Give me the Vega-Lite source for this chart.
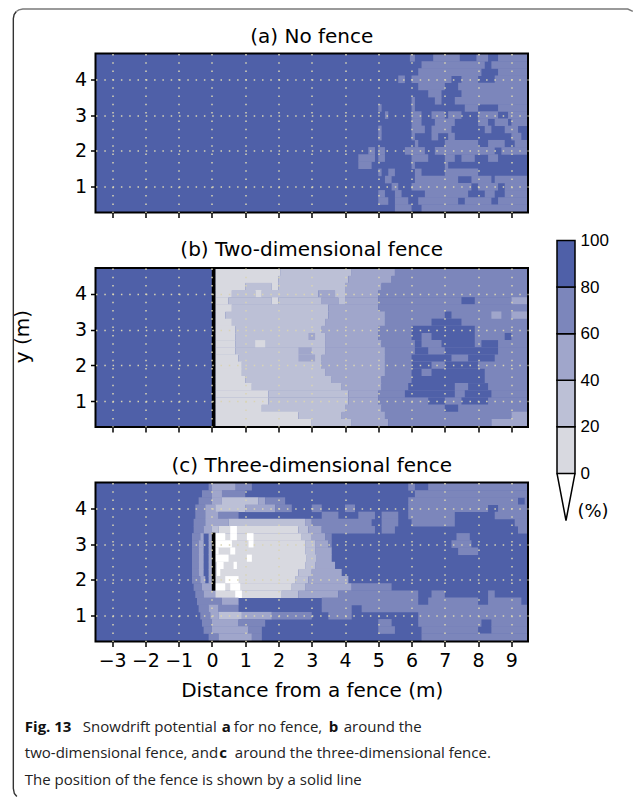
{"$schema":"https://vega.github.io/schema/vega-lite/v6.json","padding":{"left":10.5,"top":5.5,"right":0,"bottom":0},"background":"white","config":{"view":{"stroke":null},"axis":{"labelFont":"DejaVu Sans","titleFont":"DejaVu Sans"},"title":{"font":"DejaVu Sans","fontSize":20,"fontWeight":"normal","offset":6}},
"datasets":{"box":[{"x":-3.5,"e":9.5,"y":0.28,"t":4.72}],
"a":[{"x":5.95,"e":6.1,"y":4.6,"v":70},{"x":6.65,"e":7.45,"y":4.6,"v":70},{"x":7.95,"e":8.3,"y":4.6,"v":70},{"x":8.6,"e":9.5,"y":4.6,"v":70},{"x":6.3,"e":8.2,"y":4.4,"v":70},{"x":8.4,"e":9.5,"y":4.4,"v":70},{"x":6.2,"e":8.1,"y":4.2,"v":70},{"x":8.6,"e":9.5,"y":4.2,"v":70},{"x":5.6,"e":5.8,"y":4,"v":70},{"x":6,"e":7.2,"y":4,"v":70},{"x":7.5,"e":8,"y":4,"v":70},{"x":8.5,"e":9.5,"y":4,"v":70},{"x":6.2,"e":7,"y":3.8,"v":70},{"x":7.4,"e":9.5,"y":3.8,"v":70},{"x":6.5,"e":6.9,"y":3.6,"v":70},{"x":7.5,"e":9.5,"y":3.6,"v":70},{"x":6,"e":6.1,"y":3.4,"v":70},{"x":6.7,"e":6.9,"y":3.4,"v":70},{"x":7.3,"e":9.5,"y":3.4,"v":70},{"x":5,"e":5.1,"y":3.2,"v":70},{"x":6,"e":6.1,"y":3.2,"v":70},{"x":7.6,"e":8,"y":3.2,"v":70},{"x":8.6,"e":9.5,"y":3.2,"v":70},{"x":5.2,"e":5.3,"y":3,"v":70},{"x":6,"e":6.3,"y":3,"v":70},{"x":6.6,"e":7,"y":3,"v":70},{"x":7.1,"e":7.5,"y":3,"v":70},{"x":8,"e":8.6,"y":3,"v":70},{"x":8.9,"e":9.5,"y":3,"v":70},{"x":6,"e":6.3,"y":2.8,"v":70},{"x":6.7,"e":7.3,"y":2.8,"v":70},{"x":8,"e":8.3,"y":2.8,"v":70},{"x":8.5,"e":8.9,"y":2.8,"v":70},{"x":9,"e":9.5,"y":2.8,"v":70},{"x":5,"e":5.1,"y":2.6,"v":70},{"x":6,"e":6.4,"y":2.6,"v":70},{"x":6.6,"e":7.2,"y":2.6,"v":70},{"x":8.2,"e":8.4,"y":2.6,"v":70},{"x":8.8,"e":9.2,"y":2.6,"v":70},{"x":5,"e":5.1,"y":2.4,"v":70},{"x":6,"e":6.1,"y":2.4,"v":70},{"x":6.6,"e":6.8,"y":2.4,"v":70},{"x":7.1,"e":7.3,"y":2.4,"v":70},{"x":9,"e":9.3,"y":2.4,"v":70},{"x":6.1,"e":6.2,"y":2.2,"v":70},{"x":7,"e":8,"y":2.2,"v":70},{"x":8.3,"e":8.8,"y":2.2,"v":70},{"x":9.1,"e":9.5,"y":2.2,"v":70},{"x":4.7,"e":4.9,"y":2,"v":70},{"x":5,"e":5.2,"y":2,"v":70},{"x":5.8,"e":6.4,"y":2,"v":70},{"x":6.7,"e":8.5,"y":2,"v":70},{"x":8.7,"e":9.5,"y":2,"v":70},{"x":4.4,"e":4.9,"y":1.8,"v":70},{"x":5,"e":5.2,"y":1.8,"v":70},{"x":6,"e":6.5,"y":1.8,"v":70},{"x":7,"e":7.3,"y":1.8,"v":70},{"x":7.5,"e":7.9,"y":1.8,"v":70},{"x":8.3,"e":8.6,"y":1.8,"v":70},{"x":4.4,"e":4.8,"y":1.6,"v":70},{"x":6,"e":6.1,"y":1.6,"v":70},{"x":7,"e":7.1,"y":1.6,"v":70},{"x":5,"e":5.1,"y":1.4,"v":70},{"x":5.3,"e":5.5,"y":1.4,"v":70},{"x":6.1,"e":6.3,"y":1.4,"v":70},{"x":7,"e":8,"y":1.4,"v":70},{"x":5.2,"e":5.4,"y":1.2,"v":70},{"x":6.1,"e":7.4,"y":1.2,"v":70},{"x":7.8,"e":8.4,"y":1.2,"v":70},{"x":8.5,"e":9.5,"y":1.2,"v":70},{"x":5.4,"e":5.6,"y":1,"v":70},{"x":6,"e":7.8,"y":1,"v":70},{"x":8,"e":8.6,"y":1,"v":70},{"x":8.8,"e":9.5,"y":1,"v":70},{"x":5,"e":5.2,"y":0.8,"v":70},{"x":5.5,"e":5.7,"y":0.8,"v":70},{"x":6.4,"e":7.7,"y":0.8,"v":70},{"x":8.2,"e":8.5,"y":0.8,"v":70},{"x":8.8,"e":9.5,"y":0.8,"v":70},{"x":5,"e":5.3,"y":0.6,"v":70},{"x":5.5,"e":5.9,"y":0.6,"v":70},{"x":6.2,"e":7.4,"y":0.6,"v":70},{"x":7.6,"e":8.4,"y":0.6,"v":70},{"x":8.6,"e":9.5,"y":0.6,"v":70},{"x":5.5,"e":6,"y":0.4,"v":70},{"x":6.3,"e":9.5,"y":0.4,"v":70}],
"b":[{"x":0.1,"e":2.05,"y":4.6,"v":10},{"x":2.05,"e":4.2,"y":4.6,"v":30},{"x":4.2,"e":5.5,"y":4.6,"v":50},{"x":5.5,"e":9.5,"y":4.6,"v":70},{"x":0.1,"e":2,"y":4.4,"v":10},{"x":2,"e":4.1,"y":4.4,"v":30},{"x":4.1,"e":5.4,"y":4.4,"v":50},{"x":5.4,"e":9.5,"y":4.4,"v":70},{"x":0.1,"e":1,"y":4.2,"v":10},{"x":1,"e":1.8,"y":4.2,"v":30},{"x":1.8,"e":2,"y":4.2,"v":10},{"x":2,"e":4,"y":4.2,"v":30},{"x":4,"e":5.1,"y":4.2,"v":50},{"x":5.1,"e":9.5,"y":4.2,"v":70},{"x":0.1,"e":0.6,"y":4,"v":10},{"x":0.6,"e":1.3,"y":4,"v":30},{"x":1.3,"e":1.5,"y":4,"v":10},{"x":1.5,"e":3.2,"y":4,"v":30},{"x":3.2,"e":3.7,"y":4,"v":50},{"x":3.7,"e":4,"y":4,"v":30},{"x":4,"e":5,"y":4,"v":50},{"x":5,"e":9.5,"y":4,"v":70},{"x":0.1,"e":0.5,"y":3.8,"v":10},{"x":0.5,"e":1.8,"y":3.8,"v":30},{"x":1.8,"e":2,"y":3.8,"v":10},{"x":2,"e":3.3,"y":3.8,"v":30},{"x":3.3,"e":3.8,"y":3.8,"v":50},{"x":3.8,"e":4,"y":3.8,"v":30},{"x":4,"e":5,"y":3.8,"v":50},{"x":5,"e":9,"y":3.8,"v":70},{"x":7.5,"e":7.9,"y":3.8,"v":90},{"x":9,"e":9.5,"y":3.8,"v":50},{"x":0.1,"e":0.6,"y":3.6,"v":10},{"x":0.6,"e":3.5,"y":3.6,"v":30},{"x":3.5,"e":5,"y":3.6,"v":50},{"x":5,"e":9.5,"y":3.6,"v":70},{"x":0.1,"e":0.4,"y":3.4,"v":10},{"x":0.4,"e":3.5,"y":3.4,"v":30},{"x":3.5,"e":5.2,"y":3.4,"v":50},{"x":5.2,"e":9.5,"y":3.4,"v":70},{"x":7,"e":7.2,"y":3.4,"v":90},{"x":8.4,"e":8.7,"y":3.4,"v":50},{"x":9,"e":9.5,"y":3.4,"v":50},{"x":0.1,"e":0.6,"y":3.2,"v":10},{"x":0.6,"e":3.4,"y":3.2,"v":30},{"x":3.4,"e":5.2,"y":3.2,"v":50},{"x":5.2,"e":9.5,"y":3.2,"v":70},{"x":6.6,"e":7.5,"y":3.2,"v":90},{"x":0.1,"e":0.7,"y":3,"v":10},{"x":0.7,"e":3.3,"y":3,"v":30},{"x":3.3,"e":5,"y":3,"v":50},{"x":5,"e":9.5,"y":3,"v":70},{"x":6,"e":7.9,"y":3,"v":90},{"x":0.1,"e":0.7,"y":2.8,"v":10},{"x":0.7,"e":3.4,"y":2.8,"v":30},{"x":2.9,"e":3.1,"y":2.8,"v":50},{"x":3.4,"e":5,"y":2.8,"v":50},{"x":5,"e":9.5,"y":2.8,"v":70},{"x":6,"e":6.3,"y":2.8,"v":90},{"x":6.6,"e":7.9,"y":2.8,"v":90},{"x":8.8,"e":9,"y":2.8,"v":90},{"x":0.1,"e":0.7,"y":2.6,"v":10},{"x":0.7,"e":3.4,"y":2.6,"v":30},{"x":1.3,"e":1.6,"y":2.6,"v":10},{"x":3.4,"e":5.1,"y":2.6,"v":50},{"x":5.1,"e":9.5,"y":2.6,"v":70},{"x":6.1,"e":6.3,"y":2.6,"v":90},{"x":6.9,"e":7.9,"y":2.6,"v":90},{"x":8.1,"e":8.6,"y":2.6,"v":90},{"x":0.1,"e":0.7,"y":2.4,"v":10},{"x":0.7,"e":3.4,"y":2.4,"v":30},{"x":2.6,"e":3,"y":2.4,"v":50},{"x":3.4,"e":5.2,"y":2.4,"v":50},{"x":5.2,"e":9.5,"y":2.4,"v":70},{"x":6.1,"e":6.5,"y":2.4,"v":90},{"x":7,"e":8.6,"y":2.4,"v":90},{"x":0.1,"e":0.8,"y":2.2,"v":10},{"x":0.8,"e":3.3,"y":2.2,"v":30},{"x":2.6,"e":3.1,"y":2.2,"v":50},{"x":3.3,"e":5.2,"y":2.2,"v":50},{"x":5.2,"e":9.5,"y":2.2,"v":70},{"x":6,"e":7.2,"y":2.2,"v":90},{"x":7.7,"e":8.5,"y":2.2,"v":90},{"x":0.1,"e":0.9,"y":2,"v":10},{"x":0.9,"e":3.3,"y":2,"v":30},{"x":3.3,"e":5.2,"y":2,"v":50},{"x":5.2,"e":9.5,"y":2,"v":70},{"x":6,"e":6.6,"y":2,"v":90},{"x":7,"e":8,"y":2,"v":90},{"x":0.1,"e":0.9,"y":1.8,"v":10},{"x":0.9,"e":3.4,"y":1.8,"v":30},{"x":3.4,"e":5.2,"y":1.8,"v":50},{"x":5.2,"e":9.5,"y":1.8,"v":70},{"x":6,"e":6.3,"y":1.8,"v":90},{"x":6.6,"e":8.2,"y":1.8,"v":90},{"x":0.1,"e":1,"y":1.6,"v":10},{"x":1,"e":3.6,"y":1.6,"v":30},{"x":3.6,"e":5.1,"y":1.6,"v":50},{"x":5.1,"e":9.5,"y":1.6,"v":70},{"x":6,"e":8.2,"y":1.6,"v":90},{"x":0.1,"e":1.2,"y":1.4,"v":10},{"x":1.2,"e":3.9,"y":1.4,"v":30},{"x":3.9,"e":5.1,"y":1.4,"v":50},{"x":5.1,"e":9.5,"y":1.4,"v":70},{"x":5.9,"e":7.3,"y":1.4,"v":90},{"x":7.7,"e":8.3,"y":1.4,"v":90},{"x":0.1,"e":1.7,"y":1.2,"v":10},{"x":1.7,"e":4.1,"y":1.2,"v":30},{"x":4.1,"e":5,"y":1.2,"v":50},{"x":5,"e":9.5,"y":1.2,"v":70},{"x":5.8,"e":7.3,"y":1.2,"v":90},{"x":7.6,"e":8.4,"y":1.2,"v":90},{"x":0.1,"e":1.7,"y":1,"v":10},{"x":1.7,"e":4.1,"y":1,"v":30},{"x":4.1,"e":5,"y":1,"v":50},{"x":5,"e":9.5,"y":1,"v":70},{"x":6.5,"e":7,"y":1,"v":90},{"x":7.5,"e":8.3,"y":1,"v":90},{"x":0.1,"e":1.5,"y":0.8,"v":10},{"x":1.5,"e":4,"y":0.8,"v":30},{"x":4,"e":5.1,"y":0.8,"v":50},{"x":5.1,"e":9.5,"y":0.8,"v":70},{"x":7,"e":7.4,"y":0.8,"v":90},{"x":0.1,"e":2.6,"y":0.6,"v":10},{"x":2.6,"e":3.9,"y":0.6,"v":30},{"x":3.9,"e":5.2,"y":0.6,"v":50},{"x":5.2,"e":9,"y":0.6,"v":70},{"x":9,"e":9.5,"y":0.6,"v":50},{"x":0.1,"e":3,"y":0.4,"v":10},{"x":3,"e":4.2,"y":0.4,"v":30},{"x":4.2,"e":5.3,"y":0.4,"v":50},{"x":5.3,"e":8.4,"y":0.4,"v":70},{"x":8.4,"e":9.5,"y":0.4,"v":50}],
"c":[{"x":-0.1,"e":1.2,"y":4.6,"v":70},{"x":0,"e":0.7,"y":4.6,"v":50},{"x":5.9,"e":6.1,"y":4.6,"v":70},{"x":6.5,"e":9.5,"y":4.6,"v":70},{"x":-0.3,"e":1,"y":4.4,"v":70},{"x":0,"e":0.3,"y":4.4,"v":50},{"x":6.1,"e":9.5,"y":4.4,"v":70},{"x":-0.4,"e":0,"y":4.2,"v":70},{"x":0,"e":0.3,"y":4.2,"v":50},{"x":0.3,"e":1.4,"y":4.2,"v":30},{"x":1.4,"e":1.6,"y":4.2,"v":50},{"x":1.6,"e":2.2,"y":4.2,"v":70},{"x":5.9,"e":9.2,"y":4.2,"v":70},{"x":9.4,"e":9.5,"y":4.2,"v":70},{"x":-0.5,"e":-0.2,"y":4,"v":70},{"x":-0.2,"e":0.1,"y":4,"v":50},{"x":0.1,"e":1,"y":4,"v":30},{"x":1,"e":1.9,"y":4,"v":50},{"x":1.9,"e":2.4,"y":4,"v":70},{"x":3,"e":3.3,"y":4,"v":70},{"x":4,"e":4.3,"y":4,"v":70},{"x":5.9,"e":8.3,"y":4,"v":70},{"x":8.6,"e":9.5,"y":4,"v":70},{"x":-0.5,"e":-0.2,"y":3.8,"v":70},{"x":-0.2,"e":0.2,"y":3.8,"v":50},{"x":0.2,"e":0.8,"y":3.8,"v":70},{"x":3.3,"e":3.8,"y":3.8,"v":70},{"x":4.4,"e":4.9,"y":3.8,"v":70},{"x":5.1,"e":5.6,"y":3.8,"v":70},{"x":5.9,"e":7.3,"y":3.8,"v":70},{"x":8.5,"e":9.5,"y":3.8,"v":70},{"x":-0.55,"e":-0.2,"y":3.6,"v":70},{"x":-0.2,"e":0.5,"y":3.6,"v":50},{"x":0.5,"e":2.8,"y":3.6,"v":30},{"x":2.8,"e":3,"y":3.6,"v":50},{"x":3,"e":4.8,"y":3.6,"v":70},{"x":5.1,"e":5.6,"y":3.6,"v":70},{"x":6,"e":7.3,"y":3.6,"v":70},{"x":9.1,"e":9.5,"y":3.6,"v":70},{"x":-0.55,"e":-0.25,"y":3.4,"v":70},{"x":-0.25,"e":0,"y":3.4,"v":50},{"x":0,"e":0.2,"y":3.4,"v":30},{"x":0.2,"e":2.6,"y":3.4,"v":10},{"x":0.55,"e":0.75,"y":3.4,"v":-1},{"x":2.6,"e":2.9,"y":3.4,"v":30},{"x":2.9,"e":3.3,"y":3.4,"v":50},{"x":3.3,"e":4.9,"y":3.4,"v":70},{"x":5.1,"e":5.5,"y":3.4,"v":70},{"x":9.2,"e":9.5,"y":3.4,"v":70},{"x":-0.6,"e":-0.35,"y":3.2,"v":70},{"x":-0.35,"e":-0.25,"y":3.2,"v":50},{"x":-0.1,"e":0.05,"y":3.2,"v":50},{"x":0.1,"e":2.7,"y":3.2,"v":10},{"x":0.1,"e":0.4,"y":3.2,"v":-1},{"x":0.55,"e":0.75,"y":3.2,"v":-1},{"x":1.05,"e":1.25,"y":3.2,"v":-1},{"x":2.7,"e":3,"y":3.2,"v":30},{"x":3,"e":3.4,"y":3.2,"v":50},{"x":3.4,"e":3.6,"y":3.2,"v":70},{"x":7.35,"e":7.75,"y":3.2,"v":70},{"x":-0.6,"e":-0.4,"y":3,"v":70},{"x":-0.4,"e":-0.25,"y":3,"v":50},{"x":-0.1,"e":0.1,"y":3,"v":50},{"x":0.1,"e":2.8,"y":3,"v":10},{"x":0.1,"e":0.6,"y":3,"v":-1},{"x":1.1,"e":1.25,"y":3,"v":-1},{"x":2.8,"e":3.1,"y":3,"v":30},{"x":3.1,"e":3.5,"y":3,"v":50},{"x":3.5,"e":3.6,"y":3,"v":70},{"x":7.2,"e":7.8,"y":3,"v":70},{"x":-0.6,"e":-0.4,"y":2.8,"v":70},{"x":-0.4,"e":-0.25,"y":2.8,"v":50},{"x":-0.1,"e":0.1,"y":2.8,"v":50},{"x":0.1,"e":2.8,"y":2.8,"v":10},{"x":0.1,"e":0.2,"y":2.8,"v":-1},{"x":0.55,"e":0.7,"y":2.8,"v":-1},{"x":2.8,"e":3.1,"y":2.8,"v":30},{"x":3.1,"e":3.6,"y":2.8,"v":50},{"x":7.4,"e":8,"y":2.8,"v":70},{"x":-0.6,"e":-0.4,"y":2.6,"v":70},{"x":-0.4,"e":-0.25,"y":2.6,"v":50},{"x":-0.1,"e":0.1,"y":2.6,"v":50},{"x":0.1,"e":2.85,"y":2.6,"v":10},{"x":0.1,"e":0.5,"y":2.6,"v":-1},{"x":1.05,"e":1.2,"y":2.6,"v":-1},{"x":2.85,"e":3.15,"y":2.6,"v":30},{"x":3.15,"e":3.6,"y":2.6,"v":50},{"x":-0.6,"e":-0.4,"y":2.4,"v":70},{"x":-0.4,"e":-0.25,"y":2.4,"v":50},{"x":-0.1,"e":0.1,"y":2.4,"v":50},{"x":0.1,"e":2.8,"y":2.4,"v":10},{"x":0.15,"e":0.35,"y":2.4,"v":-1},{"x":0.65,"e":0.75,"y":2.4,"v":-1},{"x":2.8,"e":3.1,"y":2.4,"v":30},{"x":3.1,"e":3.7,"y":2.4,"v":50},{"x":-0.6,"e":-0.4,"y":2.2,"v":70},{"x":-0.4,"e":-0.25,"y":2.2,"v":50},{"x":-0.1,"e":0.1,"y":2.2,"v":50},{"x":0.1,"e":2.6,"y":2.2,"v":10},{"x":0.15,"e":0.25,"y":2.2,"v":-1},{"x":2.6,"e":3,"y":2.2,"v":30},{"x":3,"e":3.9,"y":2.2,"v":50},{"x":-0.6,"e":-0.35,"y":2,"v":70},{"x":-0.35,"e":-0.2,"y":2,"v":50},{"x":-0.1,"e":0.1,"y":2,"v":50},{"x":0.1,"e":2.5,"y":2,"v":10},{"x":0.4,"e":0.8,"y":2,"v":-1},{"x":2.5,"e":2.9,"y":2,"v":30},{"x":2.9,"e":4.1,"y":2,"v":50},{"x":-0.55,"e":-0.3,"y":1.8,"v":70},{"x":-0.3,"e":0.05,"y":1.8,"v":50},{"x":0.1,"e":2.4,"y":1.8,"v":10},{"x":0.1,"e":0.4,"y":1.8,"v":-1},{"x":0.55,"e":0.85,"y":1.8,"v":-1},{"x":2.4,"e":2.8,"y":1.8,"v":30},{"x":2.8,"e":4.2,"y":1.8,"v":50},{"x":4.2,"e":5.4,"y":1.8,"v":70},{"x":-0.5,"e":-0.25,"y":1.6,"v":70},{"x":-0.25,"e":0.1,"y":1.6,"v":50},{"x":0.1,"e":2.1,"y":1.6,"v":10},{"x":0.7,"e":0.9,"y":1.6,"v":-1},{"x":2.1,"e":2.6,"y":1.6,"v":30},{"x":2.6,"e":3.8,"y":1.6,"v":50},{"x":3.8,"e":6.2,"y":1.6,"v":70},{"x":6.6,"e":7,"y":1.6,"v":70},{"x":8.3,"e":8.5,"y":1.6,"v":70},{"x":-0.45,"e":0.3,"y":1.4,"v":70},{"x":0.3,"e":0.8,"y":1.4,"v":50},{"x":3.3,"e":6.2,"y":1.4,"v":70},{"x":6.5,"e":8,"y":1.4,"v":70},{"x":8.3,"e":9.3,"y":1.4,"v":70},{"x":-0.4,"e":-0.1,"y":1.2,"v":70},{"x":-0.1,"e":0.2,"y":1.2,"v":50},{"x":0.2,"e":0.8,"y":1.2,"v":70},{"x":3.3,"e":4.2,"y":1.2,"v":70},{"x":4.5,"e":9.5,"y":1.2,"v":70},{"x":-0.35,"e":-0.05,"y":1,"v":70},{"x":-0.05,"e":0.2,"y":1,"v":50},{"x":0.2,"e":0.9,"y":1,"v":30},{"x":0.9,"e":1.8,"y":1,"v":50},{"x":1.8,"e":3,"y":1,"v":70},{"x":3.5,"e":4.2,"y":1,"v":70},{"x":6.2,"e":9.5,"y":1,"v":70},{"x":-0.3,"e":0,"y":0.8,"v":70},{"x":0,"e":0.8,"y":0.8,"v":50},{"x":0.8,"e":1.6,"y":0.8,"v":70},{"x":5,"e":5.4,"y":0.8,"v":70},{"x":6.2,"e":8.1,"y":0.8,"v":70},{"x":8.4,"e":9.5,"y":0.8,"v":70},{"x":-0.25,"e":0,"y":0.6,"v":70},{"x":0,"e":1.1,"y":0.6,"v":50},{"x":1.1,"e":1.5,"y":0.6,"v":70},{"x":5,"e":5.5,"y":0.6,"v":70},{"x":6.3,"e":8,"y":0.6,"v":70},{"x":8.4,"e":9.5,"y":0.6,"v":70},{"x":-0.1,"e":0.2,"y":0.4,"v":70},{"x":0.2,"e":1.2,"y":0.4,"v":50},{"x":1.2,"e":1.5,"y":0.4,"v":70},{"x":6.3,"e":9.5,"y":0.4,"v":70}],
"frameLeft":[{"x":-5.864,"y":-4.048,"o":1},{"x":-5.94,"y":-3.965,"o":2},{"x":-5.97,"y":-3.825,"o":3},{"x":-5.97,"y":17.677,"o":4},{"x":-5.946,"y":17.789,"o":5},{"x":-5.88,"y":17.873,"o":6}],
"frameTop":[{"x":-5.88,"y":17.873,"o":1},{"x":-5.804,"y":17.92,"o":2},{"x":-5.684,"y":17.942,"o":3},{"x":12.5,"y":17.942,"o":4},{"x":12.65,"y":17.873,"o":5}],
"capBold":[{"t":"Fig. 13","x":-5.624,"y":-2.261},{"t":"a","x":0.297,"y":-2.261},{"t":"b","x":3.513,"y":-2.261},{"t":"c","x":0.222,"y":-2.987}],
"capText":[{"t":"Snowdrift potential","x":-3.88,"y":-2.261},{"t":"for no fence,","x":0.658,"y":-2.261},{"t":"around the","x":3.963,"y":-2.261},{"t":"two-dimensional fence, and","x":-5.624,"y":-2.987},{"t":"around the three-dimensional fence.","x":0.688,"y":-2.987},{"t":"The position of the fence is shown by a solid line","x":-5.624,"y":-3.741}],
"titleC":[{"t":"(c) Three-dimensional fence","x":3,"y":5}]},
"hconcat":[{"vconcat":[
{"width":432.5,"height":159,"title":"(a) No fence","layer":[
{"data":{"name":"box"},"mark":{"type":"rect","fill":"#4f60a8"},"encoding":{"x":{"field":"x","type":"quantitative","title":null,"scale":{"domain":[-3.5,9.5],"nice":false,"zero":false},"axis":{"values":[-3,-2,-1,0,1,2,3,4,5,6,7,8,9],"tickCount":13,"labels":false,"domain":false,"tickColor":"black","tickWidth":1.5,"tickSize":5,"grid":true,"gridColor":"#d9d4b4","gridWidth":1.5,"gridDash":[1.5,6.8],"zindex":1}},"x2":{"field":"e"},"y":{"field":"y","type":"quantitative","title":null,"scale":{"domain":[0.28,4.72],"nice":false,"zero":false,"padding":0},"axis":{"values":[1,2,3,4],"tickCount":4,"format":"d","domain":false,"tickColor":"black","tickWidth":1.5,"tickSize":5,"labelFontSize":19,"labelColor":"black","labelPadding":4,"grid":true,"gridColor":"#d9d4b4","gridWidth":1.5,"gridDash":[1.5,6.8],"zindex":1}},"y2":{"field":"t"}}},
{"data":{"name":"a"},"mark":{"type":"bar","orient":"horizontal","size":7.6},"encoding":{"x":{"field":"x","type":"quantitative","scale":{"domain":[-3.5,9.5],"nice":false,"zero":false}},"x2":{"field":"e"},"y":{"field":"y","type":"quantitative","scale":{"domain":[0.28,4.72],"nice":false,"zero":false,"padding":0}},"color":{"field":"v","type":"ordinal","legend":null,"scale":{"domain":[-1,10,30,50,70,90],"range":["#ffffff","#d8d9e0","#bcc0d6","#a0a6cb","#7c86bb","#4f60a8"]}}}},
{"data":{"name":"box"},"mark":{"type":"rect","fill":null,"stroke":"black","strokeWidth":2},"encoding":{"x":{"field":"x","type":"quantitative"},"x2":{"field":"e"},"y":{"field":"y","type":"quantitative"},"y2":{"field":"t"}}}]},
{"width":432.5,"height":159,"title":"(b) Two-dimensional fence","layer":[
{"data":{"name":"box"},"mark":{"type":"rect","fill":"#4f60a8"},"encoding":{"x":{"field":"x","type":"quantitative","title":null,"scale":{"domain":[-3.5,9.5],"nice":false,"zero":false},"axis":{"values":[-3,-2,-1,0,1,2,3,4,5,6,7,8,9],"tickCount":13,"labels":false,"domain":false,"tickColor":"black","tickWidth":1.5,"tickSize":5,"grid":true,"gridColor":"#d9d4b4","gridWidth":1.5,"gridDash":[1.5,6.8],"zindex":1}},"x2":{"field":"e"},"y":{"field":"y","type":"quantitative","title":"y (m)","scale":{"domain":[0.28,4.72],"nice":false,"zero":false,"padding":0},"axis":{"values":[1,2,3,4],"tickCount":4,"format":"d","domain":false,"tickColor":"black","tickWidth":1.5,"tickSize":5,"labelFontSize":19,"labelColor":"black","labelPadding":4,"titleFontSize":20,"titleFontWeight":"normal","titleColor":"black","titlePadding":42,"titleY":68,"grid":true,"gridColor":"#d9d4b4","gridWidth":1.5,"gridDash":[1.5,6.8],"zindex":1}},"y2":{"field":"t"}}},
{"data":{"name":"b"},"mark":{"type":"bar","orient":"horizontal","size":7.6},"encoding":{"x":{"field":"x","type":"quantitative","scale":{"domain":[-3.5,9.5],"nice":false,"zero":false}},"x2":{"field":"e"},"y":{"field":"y","type":"quantitative","scale":{"domain":[0.28,4.72],"nice":false,"zero":false,"padding":0}},"color":{"field":"v","type":"ordinal","legend":null,"scale":{"domain":[-1,10,30,50,70,90],"range":["#ffffff","#d8d9e0","#bcc0d6","#a0a6cb","#7c86bb","#4f60a8"]}}}},
{"data":{"values":[{"x":0.05}]},"mark":{"type":"rule","color":"black","strokeWidth":3.6},"encoding":{"x":{"field":"x","type":"quantitative"}}},
{"data":{"name":"box"},"mark":{"type":"rect","fill":null,"stroke":"black","strokeWidth":2},"encoding":{"x":{"field":"x","type":"quantitative"},"x2":{"field":"e"},"y":{"field":"y","type":"quantitative"},"y2":{"field":"t"}}}]},
{"width":432.5,"height":159,"layer":[
{"data":{"name":"box"},"mark":{"type":"rect","fill":"#4f60a8"},"encoding":{"x":{"field":"x","type":"quantitative","title":"Distance from a fence (m)","scale":{"domain":[-3.5,9.5],"nice":false,"zero":false},"axis":{"values":[-3,-2,-1,0,1,2,3,4,5,6,7,8,9],"tickCount":13,"labelOverlap":false,"format":"d","domain":false,"tickColor":"black","tickWidth":1.5,"tickSize":5,"labelFontSize":19,"labelColor":"black","labelPadding":5,"titleFontSize":20,"titleFontWeight":"normal","titleColor":"black","titlePadding":10,"grid":true,"gridColor":"#d9d4b4","gridWidth":1.5,"gridDash":[1.5,6.8],"zindex":1}},"x2":{"field":"e"},"y":{"field":"y","type":"quantitative","title":null,"scale":{"domain":[0.28,4.72],"nice":false,"zero":false,"padding":0},"axis":{"values":[1,2,3,4],"tickCount":4,"format":"d","domain":false,"tickColor":"black","tickWidth":1.5,"tickSize":5,"labelFontSize":19,"labelColor":"black","labelPadding":4,"grid":true,"gridColor":"#d9d4b4","gridWidth":1.5,"gridDash":[1.5,6.8],"zindex":1}},"y2":{"field":"t"}}},
{"data":{"name":"c"},"mark":{"type":"bar","orient":"horizontal","size":7.6},"encoding":{"x":{"field":"x","type":"quantitative","scale":{"domain":[-3.5,9.5],"nice":false,"zero":false}},"x2":{"field":"e"},"y":{"field":"y","type":"quantitative","scale":{"domain":[0.28,4.72],"nice":false,"zero":false,"padding":0}},"color":{"field":"v","type":"ordinal","legend":null,"scale":{"domain":[-1,10,30,50,70,90],"range":["#ffffff","#d8d9e0","#bcc0d6","#a0a6cb","#7c86bb","#4f60a8"]}}}},
{"data":{"values":[{"x":0.05,"y":1.7,"t":3.32}]},"mark":{"type":"rule","color":"black","strokeWidth":3.6},"encoding":{"x":{"field":"x","type":"quantitative"},"y":{"field":"y","type":"quantitative"},"y2":{"field":"t"}}},
{"data":{"name":"box"},"mark":{"type":"rect","fill":null,"stroke":"black","strokeWidth":2},"encoding":{"x":{"field":"x","type":"quantitative"},"x2":{"field":"e"},"y":{"field":"y","type":"quantitative"},"y2":{"field":"t"}}},
{"data":{"name":"titleC"},"mark":{"type":"text","font":"DejaVu Sans","fontSize":20,"align":"center","baseline":"alphabetic","color":"black"},"encoding":{"x":{"field":"x","type":"quantitative"},"y":{"field":"y","type":"quantitative"},"text":{"field":"t"}}},
{"data":{"name":"frameLeft"},"mark":{"type":"line","color":"#333333","strokeWidth":1.4},"encoding":{"x":{"field":"x","type":"quantitative"},"y":{"field":"y","type":"quantitative"},"order":{"field":"o","type":"quantitative"}}},
{"data":{"name":"frameTop"},"mark":{"type":"line","color":"#7a7a7a","strokeWidth":1.4},"encoding":{"x":{"field":"x","type":"quantitative"},"y":{"field":"y","type":"quantitative"},"order":{"field":"o","type":"quantitative"}}},
{"data":{"name":"capBold"},"mark":{"type":"text","font":"Open Sans","fontSize":15,"fontWeight":700,"align":"left","baseline":"alphabetic","color":"#111111"},"encoding":{"x":{"field":"x","type":"quantitative"},"y":{"field":"y","type":"quantitative"},"text":{"field":"t"}}},
{"data":{"name":"capText"},"mark":{"type":"text","font":"Open Sans","fontSize":15,"align":"left","baseline":"alphabetic","color":"#222222"},"encoding":{"x":{"field":"x","type":"quantitative"},"y":{"field":"y","type":"quantitative"},"text":{"field":"t"}}}]}
],"bounds":"flush","spacing":55.5},
{"width":18,"height":467,"layer":[
{"data":{"values":[{"x":0,"e":1,"y":0,"t":20,"v":10},{"x":0,"e":1,"y":20,"t":40,"v":30},{"x":0,"e":1,"y":40,"t":60,"v":50},{"x":0,"e":1,"y":60,"t":80,"v":70},{"x":0,"e":1,"y":80,"t":100,"v":90}]},"mark":{"type":"rect","stroke":"black","strokeWidth":1.5},"encoding":{"x":{"field":"x","type":"quantitative","axis":null,"scale":{"domain":[0,1],"nice":false,"zero":false}},"x2":{"field":"e"},"y":{"field":"y","type":"quantitative","title":null,"scale":{"domain":[-20.2,180.3],"nice":false,"zero":false},"axis":{"orient":"right","values":[0,20,40,60,80,100],"tickCount":6,"domain":false,"ticks":false,"grid":false,"labelFont":"Liberation Sans","labelFontSize":17,"labelColor":"black","labelPadding":5}},"y2":{"field":"t"},"color":{"field":"v","type":"ordinal","legend":null,"scale":{"domain":[10,30,50,70,90],"range":["#d8d9e0","#bcc0d6","#a0a6cb","#7c86bb","#4f60a8"]}}}},
{"data":{"values":[{"x":0,"y":0,"o":1},{"x":0.5,"y":-20.2,"o":2},{"x":1,"y":0,"o":3}]},"mark":{"type":"line","color":"black","strokeWidth":1.5},"encoding":{"x":{"field":"x","type":"quantitative"},"y":{"field":"y","type":"quantitative"},"order":{"field":"o","type":"quantitative"}}},
{"data":{"values":[{"x":2,"y":-16.7,"t":"(%)"}]},"mark":{"type":"text","font":"DejaVu Sans","fontSize":18,"color":"black"},"encoding":{"x":{"field":"x","type":"quantitative"},"y":{"field":"y","type":"quantitative"},"text":{"field":"t"}}}]}
],"bounds":"flush","spacing":461.5}
